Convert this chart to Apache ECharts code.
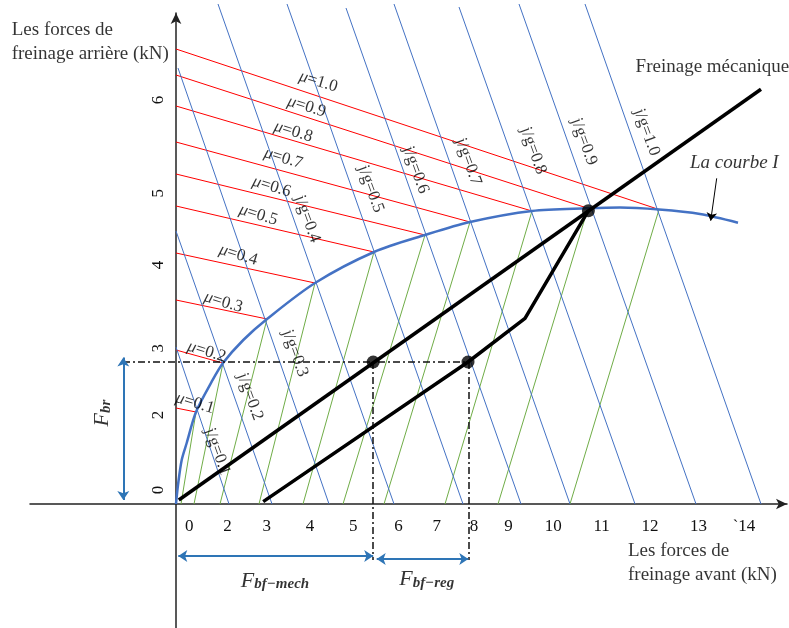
<!DOCTYPE html>
<html><head><meta charset="utf-8">
<script src="https://cdn.jsdelivr.net/npm/echarts@6/dist/echarts.min.js"></script>
<style>html,body{margin:0;padding:0;background:#fff}#c{width:789px;height:628px}</style>
</head><body><div id="c"></div>
<script>
// ---------- tick labels (irregular) ----------
const xTickLabels = ['0','2','3','4','5','6','7','8','9','10','11','12','13','`14'];
const xTickPos    = [0.333,1.29,2.27,3.35,4.43,5.56,6.52,7.45,8.31,9.43,10.64,11.85,13.06,14.2];
const yTickLabels = ['0','2','3','4','5','6'];
const yTickPos    = [0.175,1.1125,1.946,2.9875,3.884,5.05];

// ---------- adhesion (mu) lines: from rear axis to curve I ----------
const muValues   = ['0.1','0.2','0.3','0.4','0.5','0.6','0.7','0.8','0.9','1.0'];
const muStart    = [[0,1.2],[0,1.925],[0,2.55],[0,3.1375],[0,3.725],[0,4.125],[0,4.525],[0,4.975],[0,5.3625],[0,5.6875]];
const muEnd      = [[0.5,1.15],[1.175,1.7625],[2.275,2.3125],[3.475,2.7625],[4.95,3.15],[6.225,3.3625],[7.35,3.525],[8.9,3.6625],[10.3,3.696],[12.075,3.681]];
const muLabelPos = [[0.475,1.259],[0.7675,1.904],[1.1825,2.521],[1.5575,3.1125],[2.0575,3.6125],[2.3925,3.966],[2.6825,4.321],[2.9325,4.654],[3.2675,4.966],[3.5575,5.279]];

// ---------- front-axle (green) lines: from front axis to curve I ----------
const greenStart = [[0.125,0],[0.45,0],[1.1,0],[2.075,0],[3.175,0],[4.175,0],[5.2,0],[6.725,0],[8.05,0],[9.85,0]];

// ---------- deceleration (j/g) lines ----------
const jgValues   = ['0.1','0.2','0.3','0.4','0.5','0.6','0.7','0.8','0.9','1.0'];
const jgStart    = [[0,1.9625],[0,3.4125],[0.05,5.45],[1.05,6.25],[2.775,6.25],[4.25,6.2],[5.45,6.25],[7.075,6.2125],[8.575,6.25],[10.225,6.25]];
const jgEnd      = [[1.325,0],[2.4,0],[3.825,0],[5.45,0],[7.175,0],[8.625,0],[9.85,0],[11.475,0],[13.0,0],[14.625,0]];
const jgLabelPos = [[1.0325,0.654],[1.85,1.341],[2.975,1.884],[3.2825,3.5625],[4.8675,3.9375],[5.9925,4.175],[7.3075,4.279],[8.9325,4.416],[10.2,4.529],[11.7675,4.646]];

// ---------- ideal distribution curve I ----------
const curveI = [[0,0],[0.05,0.2375],[0.1425,0.55],[0.2675,0.7625],[0.5,1.15],[0.8925,1.529],[1.175,1.7625],[1.6825,2.05],[2.275,2.3125],[3.475,2.7625],[4.95,3.15],[6.225,3.3625],[7.35,3.525],[8.9,3.6625],[10.3,3.696],[11.1,3.706],[12.075,3.681],[13.1,3.625],[14.05,3.516]];

// ---------- braking lines ----------
const mechLine  = [[0.07,0.05],[14.625,5.184]];
const regenLine = [[2.18,0.03],[7.3,1.775],[8.725,2.321],[10.31,3.666]];
const keyPoints = [[4.93,1.775],[7.3,1.775],[10.31,3.666]];

// ---------- dash-dot guides and dimension arrows ----------
const guideStart = [[-1.325,1.775],[4.93,1.775],[7.32,1.775]];
const guideEnd   = [[7.3,1.775],[4.93,-0.7],[7.32,-0.7]];
const dimStart   = [[-1.3175,1.83],[0.0575,-0.65],[5.0175,-0.6875]];
const dimEnd     = [[-1.3175,0.05],[4.93,-0.65],[7.3075,-0.6875]];
const curveArrow = [[13.5175,4.071],[13.3675,3.541]];

// ---------- annotation texts ----------
const noteTexts = ['Les forces de\nfreinage arrière (kN)','Les forces de\nfreinage avant (kN)','Freinage mécanique'];
const notePos   = [[-4.1075,5.78],[11.3,-0.742],[11.49,5.466]];
const mathTexts = ['{f|F}{s|bf−mech}','{f|F}{s|bf−reg}','{f|F}{s|br}'];
const mathPos   = [[2.475,-0.95],[6.2675,-0.929],[-1.8575,1.1375]];
const mathRot   = [0,0,90];

const SERIF = '"Liberation Serif","Times New Roman",serif';
const pick = (pos, labels) => v => { let bi = 0, bd = 1e9; pos.forEach((p, i) => { const d = Math.abs(p - v); if (d < bd) { bd = d; bi = i; } }); return labels[bi]; };
const seg = (a, b) => a.map((s, i) => ({ coords: [s, b[i]] }));
const textSeries = (pos, texts, label, extra) => Object.assign({
  type: 'scatter', clip: false, silent: true, symbolSize: 1, itemStyle: { color: 'rgba(0,0,0,0)' },
  data: pos.map((p, i) => ({ value: p, label: { formatter: texts[i] } })),
  label: Object.assign({ show: true, position: 'inside', color: '#000', fontFamily: SERIF, fontSize: 17, align: 'center', verticalAlign: 'middle' }, label),
  z: 20
}, extra || {});

const chart = echarts.init(document.getElementById('c'), null, { renderer: 'canvas', width: 789, height: 628 });
const option = {
  animation: false,
  backgroundColor: '#fff',
  grid: { left: 30, right: 2, top: 13, bottom: 0, containLabel: false },
  xAxis: {
    type: 'value', min: -3.65, max: 15.275, position: 'bottom', offset: -124,
    splitLine: { show: false }, axisTick: { show: false },
    axisLine: { onZero: false, symbol: ['none', 'arrow'], symbolSize: [8, 11], lineStyle: { color: '#222', width: 1.5 } },
    axisLabel: { customValues: xTickPos, formatter: pick(xTickPos, xTickLabels), margin: 14, color: '#111', fontFamily: SERIF, fontSize: 17 }
  },
  yAxis: {
    type: 'value', min: -1.55, max: 6.1375, position: 'left', offset: -146,
    splitLine: { show: false }, axisTick: { show: false },
    axisLine: { onZero: false, symbol: ['none', 'arrow'], symbolSize: [8, 11], lineStyle: { color: '#222', width: 1.5 } },
    axisLabel: { customValues: yTickPos, formatter: pick(yTickPos, yTickLabels), rotate: 90, margin: 9, color: '#111', fontFamily: SERIF, fontSize: 17 }
  },
  series: [
    { type: 'lines', name: 'mu', coordinateSystem: 'cartesian2d', clip: false, silent: true, data: seg(muStart, muEnd), lineStyle: { color: '#FF0000', width: 1, opacity: 1 }, z: 2 },
    { type: 'lines', name: 'front', coordinateSystem: 'cartesian2d', clip: false, silent: true, data: seg(greenStart, muEnd), lineStyle: { color: '#70AD47', width: 1, opacity: 1 }, z: 2 },
    { type: 'lines', name: 'jg', coordinateSystem: 'cartesian2d', clip: false, silent: true, data: seg(jgStart, jgEnd), lineStyle: { color: '#4472C4', width: 1, opacity: 1 }, z: 2 },
    { type: 'line', name: 'La courbe I', data: curveI, smooth: 0.3, showSymbol: false, symbol: 'none', clip: false, lineStyle: { color: '#4472C4', width: 2.5 }, z: 4 },
    { type: 'lines', name: 'guides', coordinateSystem: 'cartesian2d', clip: false, silent: true, data: seg(guideStart, guideEnd), lineStyle: { color: '#111', width: 1.5, type: [7, 3, 2, 3], opacity: 1 }, z: 5 },
    { type: 'line', name: 'Freinage mécanique', data: mechLine, showSymbol: false, symbol: 'none', lineStyle: { color: '#000', width: 3.5 }, z: 6 },
    { type: 'line', name: 'Freinage régénératif', data: regenLine, showSymbol: false, symbol: 'none', lineStyle: { color: '#000', width: 3.5, join: 'round' }, z: 6 },
    { type: 'scatter', name: 'points', data: keyPoints, symbolSize: 13, itemStyle: { color: '#000' }, z: 7 },
    { type: 'lines', name: 'dims', coordinateSystem: 'cartesian2d', clip: false, silent: true, data: seg(dimStart, dimEnd), symbol: ['arrow', 'arrow'], symbolSize: 9, lineStyle: { color: '#2E75B6', width: 2, opacity: 1 }, z: 7 },
    { type: 'lines', name: 'courbeArrow', coordinateSystem: 'cartesian2d', clip: false, silent: true, data: [{ coords: curveArrow }], symbol: ['none', 'arrow'], symbolSize: 8, lineStyle: { color: '#000', width: 1, opacity: 1 }, z: 7 },
    textSeries(muLabelPos, muValues.map(v => '{m|μ}{n|=' + v + '}'), { rotate: -17, rich: { m: { fontFamily: SERIF, fontStyle: 'italic', fontSize: 17 }, n: { fontFamily: SERIF, fontSize: 17 } } }),
    textSeries(jgLabelPos, jgValues.map(v => 'j/g=' + v), { rotate: -70 }),
    textSeries(notePos, noteTexts, { align: 'left', fontSize: 19, lineHeight: 24 }),
    textSeries([[12.85, 4.259]], ['La courbe I'], { align: 'left', fontSize: 19, fontStyle: 'italic' }),
    textSeries(mathPos, mathTexts, {
      rich: {
        f: { fontFamily: SERIF, fontStyle: 'italic', fontSize: 22, lineHeight: 24, verticalAlign: 'bottom' },
        s: { fontFamily: SERIF, fontStyle: 'italic', fontWeight: 'bold', fontSize: 15, lineHeight: 20, verticalAlign: 'bottom' }
      }
    }, { data: mathPos.map((p, i) => ({ value: p, label: { formatter: mathTexts[i], rotate: mathRot[i] } })) })
  ]
};
chart.setOption(option);
</script>
</body></html>
